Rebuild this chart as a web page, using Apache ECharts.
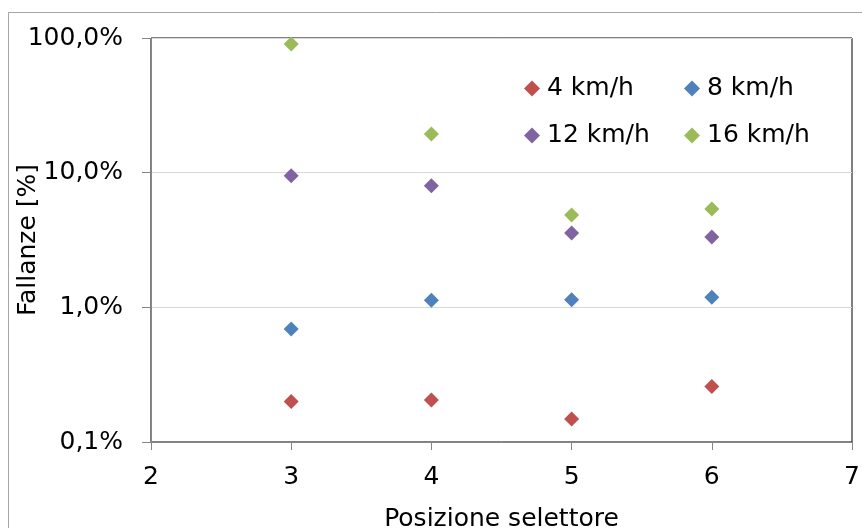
<!DOCTYPE html>
<html>
<head>
<meta charset="utf-8">
<script src="https://cdn.jsdelivr.net/npm/echarts@6/dist/echarts.min.js"></script>
<style>
  html, body { margin: 0; padding: 0; background: #ffffff; }
  #chart { width: 862px; height: 528px; }
</style>
</head>
<body>
<div id="chart"></div>
<script>
// Selector positions (x) and failure rates in percent (y, log scale)
const positions = [3, 4, 5, 6];
const speedNames = ['4 km/h', '8 km/h', '12 km/h', '16 km/h'];
const fail4 = [0.200, 0.205, 0.148, 0.258];
const fail8 = [0.69, 1.13, 1.14, 1.19];
const fail12 = [9.5, 8.0, 3.57, 3.33];
const fail16 = [90.2, 19.4, 4.85, 5.37];
const colors = ['#C0504D', '#4F81BD', '#8064A2', '#9BBB59'];

const FONT = '"DejaVu Sans", sans-serif';
const FS = 25;

const chart = echarts.init(document.getElementById('chart'), null, { renderer: 'canvas' });

function pairs(vals) {
  return positions.map((p, i) => [p, vals[i]]);
}

const allValues = [fail4, fail8, fail12, fail16];

const series = speedNames.map((name, i) => ({
  name: name,
  type: 'scatter',
  symbol: 'diamond',
  symbolSize: 15,
  itemStyle: { color: colors[i], opacity: 1 },
  data: pairs(allValues[i])
}));

// One legend per entry so the two columns line up
const legendCols = [524, 684];
const legendRows = [76, 123];
const legends = speedNames.map((name, i) => ({
  data: [name],
  orient: 'horizontal',
  left: legendCols[i % 2],
  top: legendRows[Math.floor(i / 2)],
  padding: 0,
  itemWidth: 16,
  itemHeight: 16,
  icon: 'diamond',
  itemStyle: { opacity: 1 },
  selectedMode: false,
  textStyle: { fontFamily: FONT, fontSize: FS, color: '#000', padding: [0, 0, 0, 2] }
}));

chart.setOption({
  animation: false,
  backgroundColor: '#ffffff',
  textStyle: { fontFamily: FONT },
  graphic: [{
    type: 'rect',
    shape: { x: 8.5, y: 12.5, width: 900, height: 600 },
    style: { fill: 'none', stroke: '#a6a6a6', lineWidth: 1 },
    silent: true,
    z: -10
  }],
  grid: {
    left: 151, right: 10, top: 38, bottom: 86,
    outerBoundsMode: 'none',
    containLabel: false,
    show: true,
    borderColor: '#000000',
    borderWidth: 1,
    backgroundColor: 'transparent'
  },
  legend: legends,
  xAxis: {
    type: 'value',
    min: 2, max: 7, interval: 1,
    name: 'Posizione selettore',
    nameLocation: 'middle',
    nameGap: 65,
    nameMoveOverlap: false,
    nameTextStyle: { fontFamily: FONT, fontSize: FS, color: '#000' },
    axisLine: { show: true, lineStyle: { color: '#868686', width: 1 } },
    axisTick: { show: true, length: 8, lineStyle: { color: '#868686' } },
    axisLabel: { fontFamily: FONT, fontSize: FS, color: '#000', margin: 23 },
    splitLine: { show: false }
  },
  yAxis: {
    type: 'log',
    logBase: 10,
    min: 0.1, max: 100,
    name: 'Fallanze [%]',
    nameLocation: 'middle',
    nameGap: 110,
    nameRotate: 90,
    nameMoveOverlap: false,
    nameTextStyle: { fontFamily: FONT, fontSize: FS, color: '#000' },
    axisLine: { show: true, lineStyle: { color: '#868686', width: 1 } },
    axisTick: { show: true, length: 9, lineStyle: { color: '#868686' } },
    axisLabel: {
      fontFamily: FONT, fontSize: FS, color: '#000', margin: 28,
      formatter: v => Number(v).toFixed(1).replace('.', ',') + '%'
    },
    splitLine: { show: true, lineStyle: { color: '#d9d9d9', width: 1 } },
    minorSplitLine: { show: false }
  },
  series: series
});
</script>
</body>
</html>
